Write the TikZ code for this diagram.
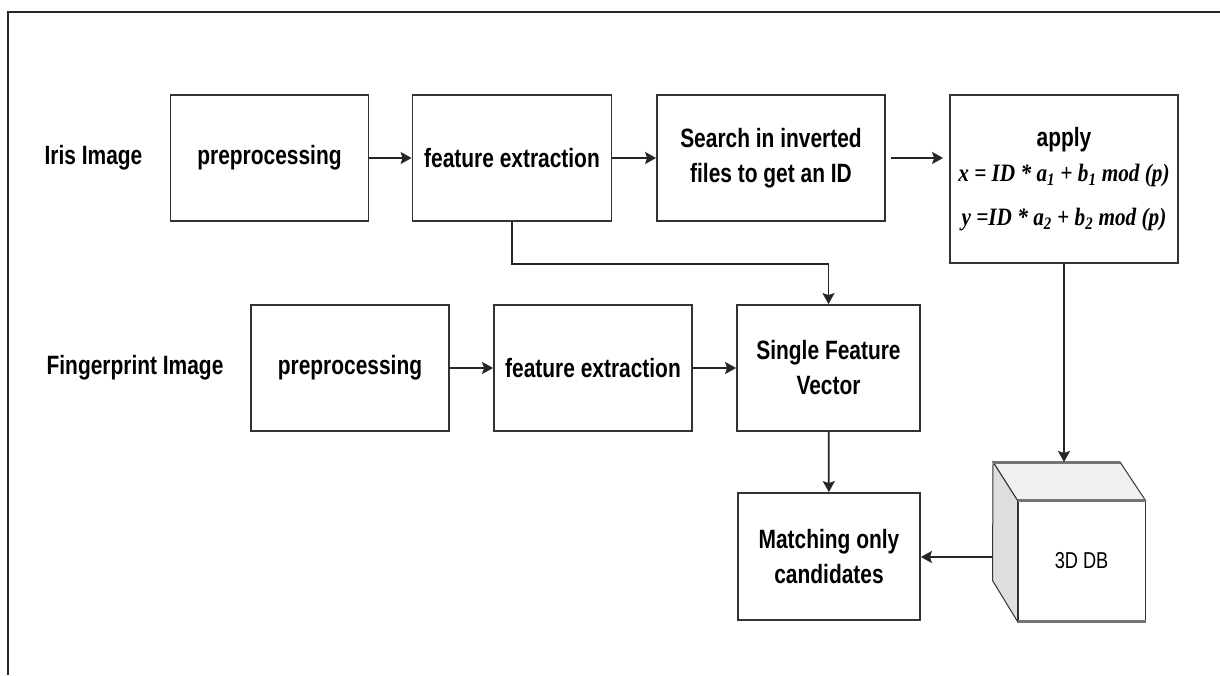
\documentclass[tikz,border=0pt]{standalone}
\usepackage{fontspec}
\setmainfont[FakeStretch=0.79]{Liberation Sans}
\newfontfamily\formfont[FakeStretch=0.85]{Liberation Serif}
\usetikzlibrary{arrows.meta}

\tikzset{
	stage/.style={draw=black!80, line width=1.8pt, align=center, inner sep=0pt,
		minimum height=126, font=\bfseries\fontsize{26.5}{35}\selectfont},
	label text/.style={font=\bfseries\fontsize{26.5}{30}\selectfont},
	link/.style={draw=black!85, line width=1.8pt, -{Stealth[length=11pt, width=12pt, inset=2pt]}},
	cube edge/.style={draw=black!55, line width=3pt}
}

\begin{document}
\begin{tikzpicture}[x=1pt, y=-1pt]

		\useasboundingbox (0,0) rectangle (1220,675);

		% frame
		\draw [line width=1.5pt, black!85] (8,675) -- (8,12) -- (1220,12);

		% row labels
		\node [label text] (iris) at (93.5,158) {Iris Image};
		\node [label text] (finger) at (135,368) {Fingerprint Image};

		% iris row
		\foreach \m/\x/\w/\l in {pre/269.5/198/preprocessing, feat/512/199/feature extraction}
			\node [stage, minimum width=\w] (iris-\m) at (\x,158) {\l};
		\node [stage, minimum width=228] (iris-search) at (771,158) {Search in inverted\\files to get an ID};
		\node [stage, minimum width=228, minimum height=168] (apply) at (1064,179)
			{apply\\
			{\formfont\fontsize{25}{35}\selectfont\bfseries\itshape x = ID * a\textsubscript{1} + b\textsubscript{1} mod (p)}\\[9pt]
			{\formfont\fontsize{25}{35}\selectfont\bfseries\itshape y =ID * a\textsubscript{2} + b\textsubscript{2} mod (p)}};

		% fingerprint row
		\foreach \m/\x/\w/\l in {pre/350/198/preprocessing, feat/593/198/feature extraction}
			\node [stage, minimum width=\w] (finger-\m) at (\x,368) {\l};
		\node [stage, minimum width=183] (vector) at (828.5,368) {Single Feature\\Vector};
		\node [stage, minimum width=182, minimum height=127] (match) at (829,556.5) {Matching only\\candidates};

		% 3D DB cube
		\coordinate (db-back) at (993,462);
		\coordinate (db-left) at (993,557);
		\node [draw=black!80, line width=1pt, fill=white, minimum width=127, minimum height=120,
			font=\fontsize{23}{25}\selectfont] (db) at (1081.5,561) {3D DB};
		\filldraw [fill=black!6, draw=black!80, line width=1pt]
			(db-back) -- ++(127,0) -- (db.north east) -- (db.north west) -- cycle;
		\filldraw [fill=black!13, draw=black!80, line width=1pt]
			(db-back) -- (db.north west) -- (db.south west) -- ++(-25,-41) -- cycle;
		\draw [cube edge] (db-back) -- ++(127,0);
		\draw [cube edge] (db.north west) -- (db.north east);
		\draw [cube edge] (db.south west) -- (db.south east);

		% arrows in the rows
		\foreach \a/\b in {iris-pre/iris-feat, iris-feat/iris-search, finger-pre/finger-feat, finger-feat/vector}
			\draw [link] (\a) -- (\b);
		\draw [link, shorten <=5pt, shorten >=6pt] (iris-search.east) -- (iris-search.east -| apply.west);

		% iris features join the fingerprint features
		\draw [link] (iris-feat.south) -- ++(0,42) -| (vector.north);
		\draw [link] (vector) -- (match);

		% storing and matching
		\draw [link] (apply.south) -- (apply.south |- db-back);
		\draw [link] (db-left) -- (match.east |- db-left);

\end{tikzpicture}
\end{document}
